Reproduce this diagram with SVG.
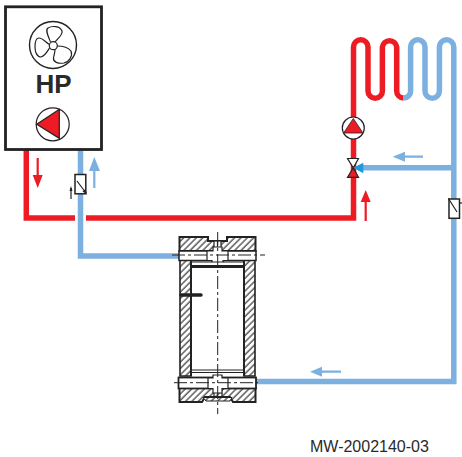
<svg xmlns="http://www.w3.org/2000/svg" width="462" height="457" viewBox="0 0 462 457">
<defs>
<pattern id="hatch" width="4.500" height="4.500" patternUnits="userSpaceOnUse" patternTransform="rotate(45)"><rect width="4.500" height="4.500" fill="#fff"/><line x1="1" y1="0" x2="1" y2="4.500" stroke="#222" stroke-width="1.100"/></pattern>
</defs>
<style>
.red{fill:none;stroke:#ed1c24;stroke-width:5.500}
.blue{fill:none;stroke:#7cb0e0;stroke-width:5.500}
.ln{fill:none;stroke:#222;stroke-width:1.200}
.hv{fill:none;stroke:#222;stroke-width:2}
.arR{fill:none;stroke:#ed1c24;stroke-width:2.200}
.arB{fill:none;stroke:#7cb0e0;stroke-width:2.200}
.fr{fill:#ed1c24}
.fb{fill:#7cb0e0}
.cl{fill:none;stroke:#222;stroke-width:1;stroke-dasharray:13 3 3 3}
.txt{font-family:"Liberation Sans",Arial,sans-serif;fill:#2a2a2a}
</style>
<g id="connectors">
<path class="red" d="M26.300 150V218H75M86 218H353.500V47A7.200 7.200 0 0 1 368 47V91A7.200 7.200 0 0 0 382.400 91V47A7.200 7.200 0 0 1 396.700 47V91A7 7 0 0 0 403.500 98"/>
<path class="blue" d="M403.500 98A7 7 0 0 0 410.600 91V47A7.200 7.200 0 0 1 425 47V91A7.200 7.200 0 0 0 439.400 91V47A7.200 7.200 0 0 1 453.800 47V381.500H256"/>
<path class="blue" d="M358 167.800H454M80.500 150V256H179"/>
<path class="arR" d="M37.700 158V177M365.700 200V221"/>
<path class="fr" d="M32.700 175H42.700L37.700 188ZM360.700 202H370.700L365.700 190Z"/>
<path class="arB" d="M94.300 168V188M403 156.700H423M321 371.700H341"/>
<path class="fb" d="M89 171H100L94.300 157ZM392.700 156.700L405 151.700V161.700ZM310 371.700L322 366.700V376.700Z"/>
</g>
<g id="hp">
<rect x="5.500" y="6.800" width="96" height="142.700" fill="#fff" stroke="#222" stroke-width="2.800"/>
<circle cx="53" cy="45" r="23.500" fill="none" stroke="#222" stroke-width="1.400"/>
<circle cx="53.300" cy="45.700" r="4" class="ln"/>
<path class="ln" d="M50.500 42C48 36 45 30 48 28C52 25.500 60 26 62 31C63 35 58 38 55 42"/>
<path class="ln" d="M57 46C62 46 68 47 71 51C73 56 69 62 64 63C58 64 53 62 53.500 58C54 55 55 52 55 49.500"/>
<path class="ln" d="M49.500 48C47 52 45 56 41 57C37 57 35 52 35 47C35 42 36 38 39 38C43 38 46 43 49.500 44.500"/>
<text class="txt" x="53.500" y="92.700" font-size="26" font-weight="bold" text-anchor="middle">HP</text>
<circle cx="52.700" cy="124.300" r="16.500" class="ln"/>
<path d="M36.700 124.300L59.300 109.300V138.300Z" fill="#ed1c24" stroke="#222" stroke-width="1.200"/>
</g>
<g id="sensor-left">
<rect x="75" y="174.500" width="10.800" height="19.300" fill="#fff" stroke="#222" stroke-width="1.500"/>
<path class="ln" d="M77 181L86 193M71 199V188"/>
<path d="M71 186L69.500 191H72.500Z" fill="#222"/>
<path d="M87 194.500L82.500 191.500L85.500 189Z" fill="#222"/>
</g>
<g id="sensor-right">
<rect x="449" y="199" width="10.500" height="19.300" fill="#fff" stroke="#222" stroke-width="1.500"/>
<path class="ln" d="M448.300 198.300L457 212M461 202V204"/>
</g>
<g id="pump">
<circle cx="353.300" cy="128" r="11" fill="#fff" stroke="#222" stroke-width="1.200"/>
<path d="M353.300 118.500L363 133H343.600Z" fill="#ed1c24" stroke="#222" stroke-width=".8"/>
</g>
<g id="valve">
<path d="M347.500 158.500H358.500L353.300 167.800Z" fill="#fff" stroke="#222" stroke-width="1.200"/>
<path d="M347.500 177.300H358.500L353.300 167.800Z" fill="#ed1c24" stroke="#222" stroke-width="1.200"/>
<path d="M353.300 167.800L363.300 162.800V173.300Z" fill="#1c9bd8"/>
</g>
<g id="tank">
<rect x="180" y="237" width="75" height="165" fill="#fff"/>
<path d="M179.500 237H208V241H227V237H255.500V251H179.500Z" fill="url(#hatch)" stroke="#222" stroke-width="2"/>
<path d="M180 260H191V376H180ZM244 260H255V376H244Z" fill="url(#hatch)" stroke="#222" stroke-width="1.600"/>
<path d="M179.500 388H255.500V402H233L230 397H205L202 402H179.500Z" fill="url(#hatch)" stroke="#222" stroke-width="2"/>
<rect x="214" y="241" width="7" height="10" fill="#fff" stroke="#222" stroke-width="1.200"/>
<path class="ln" d="M217.500 241V251"/>
<rect x="179" y="251" width="77" height="9.500" fill="#fff" stroke="#222" stroke-width="1.500"/>
<rect x="178.500" y="377.500" width="77.500" height="11" fill="#fff" stroke="#222" stroke-width="1.800"/>
<path d="M207 260.500V251H213V247H222V251H228V260.500H223V262H212V260.500Z" fill="#fff" stroke="#222" stroke-width="1.200"/>
<path d="M208 388.500V378H213V375H222V378H228V388.500H222V393H213V388.500Z" fill="#fff" stroke="#222" stroke-width="1.200"/>
<path class="hv" d="M191 260V376M244 260V376"/>
<path d="M191 266.500H244" fill="none" stroke="#222" stroke-width="3"/>
<path class="ln" d="M191 262H212M223 262H244M191 370H244M191 372.500H244M214 393V397M222 393V397"/>
<path d="M203 397.500H232L230 401H206Z" fill="url(#hatch)" stroke="#222" stroke-width="1"/>
<path d="M181 295H201" fill="none" stroke="#222" stroke-width="3.500" stroke-linecap="round"/>
<path class="cl" d="M217.700 232V414M172 255H265M174 382.700H258"/>
</g>
<text id="ref" class="txt" x="310" y="451.500" font-size="16">MW-2002140-03</text>
</svg>
